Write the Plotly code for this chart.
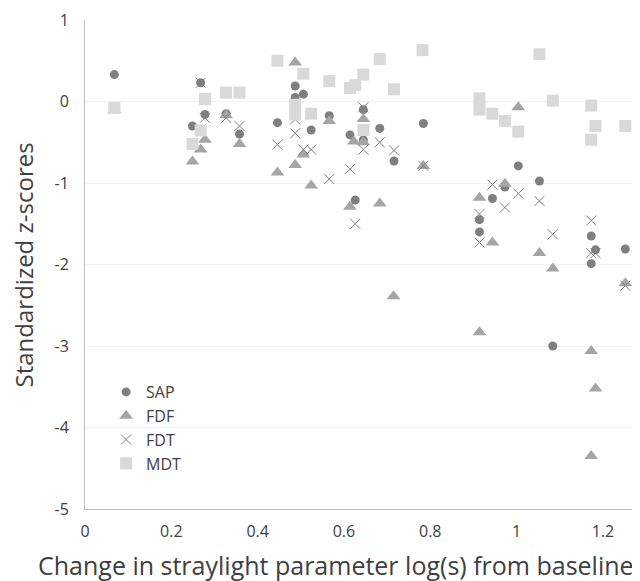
import plotly.graph_objects as go

# Valeurs
sap_x = [0.068, 0.268, 0.278, 0.249, 0.327, 0.358, 0.487, 0.506, 0.487, 0.566,
         0.446, 0.524, 0.614, 0.645, 0.645, 0.683, 0.716, 0.626, 0.784, 1.004,
         1.053, 0.973, 0.944, 0.914, 0.914, 1.173, 1.183, 1.173, 1.252, 1.084]
sap_y = [0.33, 0.23, -0.16, -0.30, -0.15, -0.40, 0.19, 0.09, 0.05, -0.175,
         -0.26, -0.35, -0.41, -0.10, -0.47, -0.33, -0.73, -1.21, -0.27, -0.79,
         -0.975, -1.05, -1.19, -1.45, -1.60, -1.65, -1.82, -1.99, -1.81, -3.00]

fdf_x = [0.068, 0.278, 0.268, 0.249, 0.327, 0.358, 0.487, 0.566, 0.506, 0.487,
         0.446, 0.524, 0.623, 0.645, 0.645, 0.683, 0.614, 0.784, 0.715, 1.004,
         0.973, 0.914, 0.944, 1.053, 1.084, 1.252, 0.914, 1.173, 1.183, 1.173]
fdf_y = [-0.10, -0.47, -0.59, -0.735, -0.17, -0.52, 0.48, -0.24, -0.65, -0.78,
         -0.87, -1.03, -0.49, -0.215, -0.50, -1.25, -1.29, -0.79, -2.39, -0.07,
         -1.01, -1.18, -1.73, -1.86, -2.05, -2.23, -2.83, -3.06, -3.52, -4.35]

fdt_x = [0.268, 0.278, 0.327, 0.358, 0.487, 0.487, 0.446, 0.506, 0.524, 0.566,
         0.614, 0.626, 0.645, 0.645, 0.683, 0.716, 0.784, 0.944, 1.004, 1.053,
         0.973, 0.914, 0.914, 1.173, 1.084, 1.173, 1.183, 1.252]
fdt_y = [0.23, -0.20, -0.20, -0.30, -0.22, -0.39, -0.53, -0.59, -0.59, -0.95,
         -0.83, -1.50, -0.07, -0.59, -0.50, -0.60, -0.79, -1.02, -1.13, -1.22,
         -1.30, -1.38, -1.73, -1.46, -1.63, -1.86, -1.86, -2.26]

mdt_x = [0.068, 0.278, 0.268, 0.249, 0.327, 0.358, 0.446, 0.506, 0.566, 0.683,
         0.782, 0.645, 0.626, 0.614, 0.716, 0.487, 0.487, 0.524, 0.645, 1.053,
         0.914, 0.914, 0.944, 0.973, 1.004, 1.084, 1.173, 1.183, 1.252, 1.173]
mdt_y = [-0.08, 0.03, -0.355, -0.52, 0.11, 0.11, 0.50, 0.34, 0.25, 0.52,
         0.63, 0.33, 0.20, 0.165, 0.15, -0.04, -0.16, -0.15, -0.35, 0.58,
         0.04, -0.10, -0.15, -0.24, -0.37, 0.01, -0.05, -0.30, -0.30, -0.47]

x_ticks = [0, 0.2, 0.4, 0.6, 0.8, 1, 1.2]
x_labels = ['0', '0.2', '0.4', '0.6', '0.8', '1', '1.2']
y_ticks = [1, 0, -1, -2, -3, -4, -5]
y_labels = ['1', '0', '-1', '-2', '-3', '-4', '-5']

FONT = "Open Sans"
TXT = '#404040'

fig = go.Figure()
fig.add_trace(go.Scatter(x=sap_x, y=sap_y, mode='markers', name='SAP',
                         marker=dict(symbol='circle', size=9, color='#7f7f7f')))
fig.add_trace(go.Scatter(x=fdf_x, y=fdf_y, mode='markers', name='FDF',
                         marker=dict(symbol='triangle-up', size=12, color='#a5a5a5')))
fig.add_trace(go.Scatter(x=fdt_x, y=fdt_y, mode='markers', name='FDT',
                         marker=dict(symbol='x-thin', size=10, color='#7f7f7f',
                                     line=dict(width=1, color='#7f7f7f'))))
fig.add_trace(go.Scatter(x=mdt_x, y=mdt_y, mode='markers', name='MDT',
                         marker=dict(symbol='square', size=12, color='#d9d9d9')))

# titres d'axes placés à la main (marges fixes)
fig.add_annotation(text='Change in straylight parameter log(s) from baseline',
                   xref='paper', yref='paper', x=0.452, y=-0.114,
                   xanchor='center', yanchor='middle', showarrow=False,
                   font=dict(size=25, color=TXT))
fig.add_annotation(text='Standardized z-scores', textangle=-90,
                   xref='paper', yref='paper', x=-0.11, y=0.5,
                   xanchor='center', yanchor='middle', showarrow=False,
                   font=dict(size=24, color=TXT))

# la page ajoute 8 px de marge au body : on compense
fig.update_layout(
    width=632, height=573,
    margin=dict(l=77, r=0, t=12, b=72),
    plot_bgcolor='white', paper_bgcolor='white',
    font=dict(family=FONT, color=TXT, size=16),
    legend=dict(x=0.038, y=0.274, xanchor='left', yanchor='top',
                bgcolor='rgba(0,0,0,0)', font=dict(size=16, color=TXT),
                tracegroupgap=0, itemsizing='trace'),
    xaxis=dict(range=[0, 1.286], tickvals=x_ticks, ticktext=x_labels,
               showgrid=False, zeroline=False, showline=True, linecolor='#bfbfbf',
               ticks='', ticklabelstandoff=8, automargin=False),
    yaxis=dict(range=[-5, 1], tickvals=y_ticks, ticktext=y_labels,
               showgrid=True, gridcolor='#f2f2f2',
               zeroline=False, showline=True, linecolor='#bfbfbf', ticks='',
               ticklabelstandoff=12, automargin=False),
)

fig.write_html("out.html")
